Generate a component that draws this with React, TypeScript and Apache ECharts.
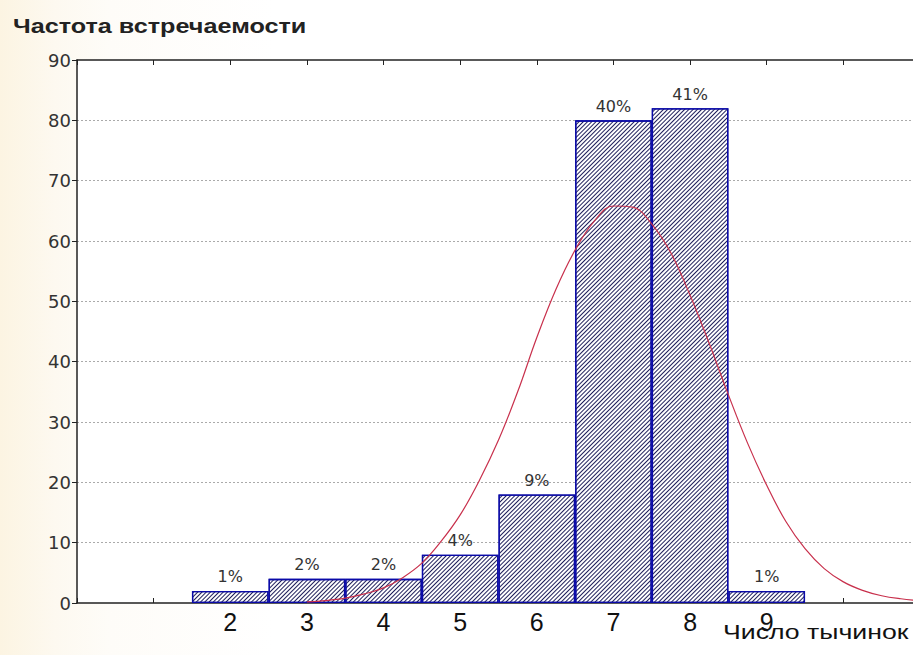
import React, { useEffect, useRef } from "react";
import * as echarts from "echarts";

const categories = ["0", "1", "2", "3", "4", "5", "6", "7", "8", "9", "10", "11"];
const counts = [null, null, 2, 4, 4, 8, 18, 80, 82, 2, null, null];
const percents = ["", "", "1%", "2%", "2%", "4%", "9%", "40%", "41%", "1%", "", ""];
const shownLabels = ["2", "3", "4", "5", "6", "7", "8", "9"];
const yTicks = [0, 10, 20, 30, 40, 50, 60, 70, 80, 90];
const curveX = [3.0, 3.25, 3.5, 3.75, 4.0, 4.25, 4.5, 4.75, 5.0, 5.25, 5.5, 5.75, 6.0, 6.25, 6.5, 6.75, 7.0, 7.25, 7.5, 7.75, 8.0, 8.25, 8.5, 8.75, 9.0, 9.25, 9.5, 9.75, 10.0, 10.25, 10.5, 10.75, 11.0];
const curveY = [0.2, 0.4, 0.8, 1.5, 2.5, 4.2, 6.6, 10.2, 14.6, 20.3, 27.0, 35.0, 44.0, 52.0, 58.5, 63.3, 65.8, 65.6, 62.8, 58.0, 51.0, 43.0, 34.5, 26.5, 19.5, 13.5, 9.0, 5.7, 3.5, 2.1, 1.2, 0.7, 0.4];

export default function App() {
  const ref = useRef<HTMLDivElement>(null);
  useEffect(() => {
    if (!ref.current) return;
    const chart = echarts.init(ref.current, null, { renderer: "svg" });
    const curveData = curveX.map((x, i) => [x, curveY[i]]);
    chart.setOption({
      animation: false,
      grid: {
        left: 77,
        right: 0,
        top: 60,
        bottom: 52,
        show: true,
        backgroundColor: "#ffffff",
        borderWidth: 0,
      },
      graphic: [
        {
          type: "text",
          x: 13,
          y: 25.5,
          scaleX: 1.2,
          style: {
            text: "Частота встречаемости",
            font: 'bold 21px "Liberation Sans", Arial, sans-serif',
            fill: "#222222",
            verticalAlign: "middle",
          },
          z: 10,
        },
        {
          type: "text",
          x: 723,
          y: 632,
          scaleX: 1.27,
          style: {
            text: "Число тычинок",
            font: '21px "Liberation Sans", Arial, sans-serif',
            fill: "#111111",
            verticalAlign: "middle",
          },
          z: 10,
        },
      ],
      xAxis: [
        {
          type: "category",
          data: categories,
          boundaryGap: false,
          position: "bottom",
          axisLine: { show: true, lineStyle: { color: "#222", width: 1.5 } },
          axisTick: { show: true, inside: true, length: 5, lineStyle: { color: "#222" } },
          axisLabel: {
            margin: 6,
            interval: 0,
            fontSize: 25,
            fontFamily: '"Liberation Sans", Arial, sans-serif',
            color: "#111",
            formatter: (v: string) => (shownLabels.includes(v) ? v : ""),
          },
          splitLine: { show: false },
        },
        {
          type: "category",
          data: categories,
          boundaryGap: false,
          position: "top",
          axisLine: { show: true, lineStyle: { color: "#222", width: 1.5 } },
          axisTick: { show: true, inside: true, length: 5, lineStyle: { color: "#222" } },
          axisLabel: { show: false },
          splitLine: { show: false },
        },
        {
          type: "value",
          min: 0,
          max: 11,
          show: false,
        },
      ],
      yAxis: {
        type: "value",
        min: 0,
        max: 90,
        interval: 10,
        axisLine: { show: true, lineStyle: { color: "#222", width: 1.5 } },
        axisTick: { show: true, inside: false, length: 5, lineStyle: { color: "#222" } },
        axisLabel: {
          margin: 6,
          fontSize: 18,
          fontFamily: '"DejaVu Sans", sans-serif',
          color: "#333",
          formatter: (v: number) => (yTicks.includes(v) ? String(v) : ""),
        },
        splitLine: {
          show: true,
          lineStyle: { color: "#aaaaaa", type: [2, 2], width: 1 },
          showMinLine: false,
          showMaxLine: false,
        },
      },
      series: [
        {
          type: "bar",
          xAxisIndex: 0,
          data: counts,
          barWidth: "100%",
          barCategoryGap: 0,
          itemStyle: {
            color: "#ffffff",
            borderColor: "#0a0aa8",
            borderWidth: 1.3,
            decal: {
              symbol: "rect",
              symbolSize: 1,
              dashArrayX: [1, 0],
              dashArrayY: [1, 2],
              rotation: -Math.PI / 4,
              color: "#1e1e5a",
            },
          },
          label: {
            show: true,
            position: "top",
            distance: 6,
            fontSize: 16,
            fontFamily: '"DejaVu Sans", sans-serif',
            color: "#333",
            formatter: (p: any) => percents[p.dataIndex],
          },
          z: 2,
        },
        {
          type: "line",
          xAxisIndex: 2,
          data: curveData,
          smooth: 0.4,
          showSymbol: false,
          symbol: "none",
          lineStyle: { color: "#c8304c", width: 1.2 },
          z: 5,
        },
      ],
    });
    return () => chart.dispose();
  }, []);
  return (
    <div
      style={{
        position: "fixed",
        left: 0,
        top: 0,
        width: 913,
        height: 655,
        overflow: "hidden",
        background: "linear-gradient(to right, #fcf4e2 0%, #fdf9f0 6%, #fefcf8 12%, #ffffff 30%)",
      }}
    >
      <div ref={ref} style={{ position: "absolute", left: 0, top: 0, width: 923, height: 655 }} />
    </div>
  );
}
